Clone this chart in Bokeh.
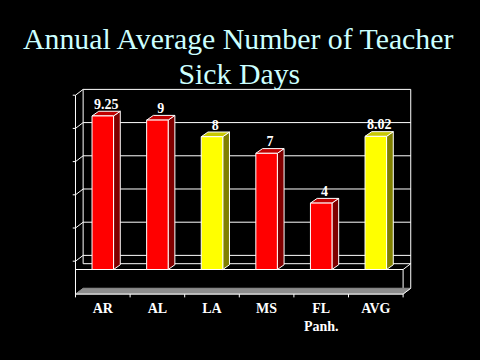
from bokeh.plotting import figure
from bokeh.models import Range1d, Label, ColumnDataSource
from bokeh.core.properties import value
from bokeh.embed import file_html
from bokeh.resources import INLINE

# ---- data ----
categories = ["AR", "AL", "LA", "MS", "FL\nPanh.", "AVG"]
sick_days = [9.25, 9, 8, 7, 4, 8.02]
value_labels = ["9.25", "9", "8", "7", "4", "8.02"]
highlight = [False, False, True, False, False, True]
grid_ticks = [0, 2, 4, 6, 8, 10]
title_lines = ["Annual Average Number of Teacher", "Sick Days"]

# ---- styles / geometry ----
FONT = "Liberation Serif"
SERIF = value(FONT)
front_col = {False: "#ff0000", True: "#ffff00"}
side_col = {False: "#800000", True: "#808000"}
top_col = {False: "#c00000", True: "#c8c800"}

n = len(categories)
bw = 0.394      # bar width (category units)
bdx, bdy = 0.123, 0.283   # bar depth offsets
wdx, wdy = 0.14, 0.35     # wall depth offsets
g_off = 0.5
slab_back = -1.13
slab_front = -1.48

p = figure(width=464, height=344, output_backend="svg", toolbar_location=None,
           x_range=Range1d(-1.227, 7.271), y_range=Range1d(-5.0, 15.723),
           min_border=0, background_fill_color="black", border_fill_color="black")
p.axis.visible = False
p.grid.visible = False
p.outline_line_color = None

W = "white"
wall_top = grid_ticks[-1] + g_off + wdy

# back wall outline
p.line([wdx, wdx, n + wdx, n + wdx], [wdy, wall_top, wall_top, slab_back], line_color=W, line_width=1)
# back wall gridlines
gy = [t + g_off + wdy for t in grid_ticks[:-1]]
p.segment(x0=[wdx] * len(gy), y0=gy, x1=[n + wdx] * len(gy), y1=gy, line_color=W, line_width=1)
# left wall diagonals + outer stubs
fy = [t + g_off for t in grid_ticks]
p.segment(x0=[0] * len(fy), y0=fy, x1=[wdx] * len(fy), y1=[y + wdy for y in fy], line_color=W, line_width=1)
p.segment(x0=[-0.05] * len(fy), y0=fy, x1=[0] * len(fy), y1=fy, line_color=W, line_width=1)
# floor back edge, front edge, right diagonal
p.line([wdx, n + wdx], [wdy, wdy], line_color=W, line_width=1)
p.line([0, n, n + wdx], [0, 0, wdy], line_color=W, line_width=1)
p.line([n, n], [0, slab_back], line_color=W, line_width=1)
# slab bottom (grey)
p.patch([0, n, n + wdx, wdx], [slab_front, slab_front, slab_back, slab_back],
        fill_color="#8c8c8c", line_color="#8c8c8c", line_width=1)
p.line([0, n, n + wdx], [slab_front, slab_front, slab_back], line_color=W, line_width=1)
# left axis line
p.line([0, 0], [grid_ticks[-1] + g_off, slab_front], line_color=W, line_width=1)
# category ticks
p.segment(x0=list(range(n + 1)), y0=[slab_front] * (n + 1), x1=list(range(n + 1)),
          y1=[slab_front - 0.2] * (n + 1), line_color=W, line_width=1)

# ---- bars ----
centers = [i + 0.5 for i in range(n)]
lefts = [c - bw / 2 for c in centers]
rights = [c + bw / 2 for c in centers]
src = ColumnDataSource(dict(
    left=lefts, right=rights, top=sick_days, bottom=[0] * n,
    front=[front_col[h] for h in highlight],
    side=[side_col[h] for h in highlight],
    topc=[top_col[h] for h in highlight],
    sx=[[r, r + bdx, r + bdx, r] for r in rights],
    sy=[[0, bdy, v + bdy, v] for v in sick_days],
    tx=[[l, r, r + bdx, l + bdx] for l, r in zip(lefts, rights)],
    ty=[[v, v, v + bdy, v + bdy] for v in sick_days],
    lx=[c + bdx / 2 for c in centers],
    ly=[v + bdy + 0.45 for v in sick_days],
    lab=value_labels,
))
p.patches("sx", "sy", source=src, fill_color="side", line_color=W, line_width=1)
p.patches("tx", "ty", source=src, fill_color="topc", line_color=W, line_width=1)
p.quad(left="left", right="right", top="top", bottom="bottom", source=src,
       fill_color="front", line_color=W, line_width=1)

p.text(x="lx", y="ly", text="lab", source=src, text_color=W, text_font=SERIF,
       text_font_style="bold", text_font_size="14px", text_align="center",
       text_baseline="alphabetic")

# category labels
p.text(x=centers, y=[-1.87] * n, text=categories, text_color=W, text_font=SERIF,
       text_font_style="bold", text_font_size="14px", text_align="center",
       text_baseline="top", text_line_height=1.2)

# title
for line, yy in zip(title_lines, [13.93, 11.82]):
    p.add_layout(Label(x=3, y=yy, text=line, text_color="#ccffff", text_font=FONT,
                       text_font_size="29.8px", text_align="center", text_baseline="alphabetic"))

html = file_html(p, INLINE)
html = html.replace("</head>",
                    "<style>html,body{background:#000000 !important;}"
                    "body{padding:8px !important;box-sizing:border-box !important;}</style></head>", 1)
open("out.html", "w").write(html)
